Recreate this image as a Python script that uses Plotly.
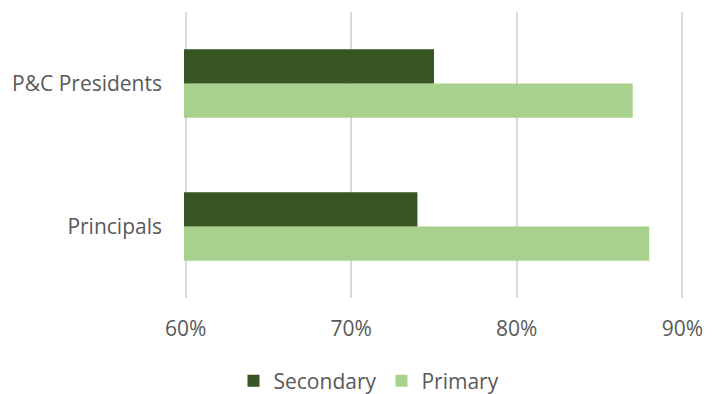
import plotly.graph_objects as go

categories = ["P&C Presidents", "Principals"]
secondary = [0.75, 0.74]
primary = [0.87, 0.88]
x_ticks = [0.6, 0.7, 0.8, 0.9]
x_tick_labels = ["60%", "70%", "80%", "90%"]

FONT = "Open Sans"
TXT = "#595959"
FS = 21

fig = go.Figure()
fig.add_trace(go.Bar(
    y=categories, x=primary, name="Primary", orientation="h",
    marker=dict(color="#A9D18E", line=dict(width=0)), legendrank=2,
))
fig.add_trace(go.Bar(
    y=categories, x=secondary, name="Secondary", orientation="h",
    marker=dict(color="#375623", line=dict(width=0)), legendrank=1,
))

fig.update_layout(
    width=718, height=394,
    margin=dict(l=184, r=34, t=12, b=96, autoexpand=False),
    barmode="group", bargap=0.52, bargroupgap=0,
    plot_bgcolor="white", paper_bgcolor="white",
    font=dict(family=FONT, size=FS, color=TXT),
    showlegend=True,
    legend=dict(orientation="h", x=0.37, xanchor="center",
                yref="container", y=0.033, yanchor="middle",
                font=dict(family=FONT, size=FS, color=TXT), itemwidth=30),
    xaxis=dict(range=[0.599, 0.901], tickvals=x_ticks, ticktext=x_tick_labels,
               showgrid=True, gridcolor="#D9D9D9", gridwidth=1.5,
               zeroline=False, showline=False, ticks="", ticklabelstandoff=16,
               tickfont=dict(family=FONT, size=FS, color=TXT), fixedrange=True),
    yaxis=dict(categoryorder="array", categoryarray=categories[::-1],
               showgrid=False, zeroline=False, showline=False, ticks="",
               ticklabelstandoff=21,
               tickfont=dict(family=FONT, size=FS, color=TXT)),
)

fig.write_html("out.html")
